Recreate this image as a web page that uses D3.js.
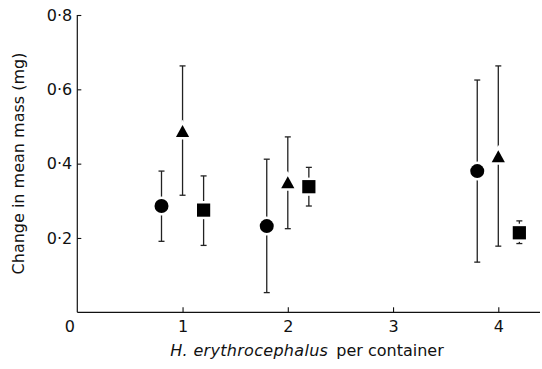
<!DOCTYPE html>
<html>
<head>
<meta charset="utf-8">
<script src="https://cdn.jsdelivr.net/npm/d3@7"></script>
<style>
  html, body { margin: 0; padding: 0; background: #fff; }
  svg { display: block; }
  text { font-family: "DejaVu Sans", sans-serif; fill: #111; }
</style>
</head>
<body>
<svg id="chart" width="542" height="369"></svg>
<script>
// Mean change in mass (mg) with error bars, by number of H. erythrocephalus per container
const circleX = [0.8, 1.8, 3.8];
const circleMean = [0.286, 0.232, 0.380];
const circleLow = [0.191, 0.053, 0.135];
const circleHigh = [0.380, 0.412, 0.625];

const triangleX = [1.0, 2.0, 4.0];
const triangleMean = [0.488, 0.350, 0.420];
const triangleLow = [0.315, 0.225, 0.178];
const triangleHigh = [0.663, 0.472, 0.663];

const squareX = [1.2, 2.2, 4.2];
const squareMean = [0.275, 0.338, 0.214];
const squareLow = [0.180, 0.286, 0.185];
const squareHigh = [0.367, 0.390, 0.246];

const xTicks = [0, 1, 2, 3, 4];
const yTicks = [0.2, 0.4, 0.6, 0.8];
const yTickLabels = ["0·2", "0·4", "0·6", "0·8"];

const svg = d3.select("#chart");
const plotLeft = 77.3, plotRight = 540, plotTop = 15, plotBottom = 312.3;
const fontSize = 16;

const x = d3.scaleLinear().domain([0, 4]).range([plotLeft, 498.3]);
const y = d3.scaleLinear().domain([0, 0.8]).range([plotBottom, plotTop]);

const ink = "#111";

// axes
const xAxis = d3.axisBottom(x)
  .tickValues(xTicks)
  .tickSizeInner(-5)
  .tickSizeOuter(0)
  .tickPadding(8.5)
  .tickFormat(d3.format("d"));
const gx = svg.append("g").attr("transform", `translate(0,${plotBottom})`).call(xAxis);
gx.select(".domain").remove();
gx.append("line").attr("x1", plotLeft).attr("x2", plotRight).attr("y1", 0).attr("y2", 0)
  .attr("stroke", ink).attr("stroke-width", 1.2);
gx.selectAll(".tick line").attr("stroke", ink).attr("stroke-width", 1.1);
gx.selectAll(".tick text").attr("font-size", fontSize).attr("fill", ink)
  .attr("font-family", "DejaVu Sans")
  .attr("dx", d => d === 0 ? -8 : 0);
gx.selectAll(".tick").filter(d => d === 0).select("line").remove();

const yAxis = d3.axisLeft(y)
  .tickValues(yTicks)
  .tickSizeInner(-4)
  .tickSizeOuter(0)
  .tickPadding(5)
  .tickFormat((d, i) => yTickLabels[i]);
const gy = svg.append("g").attr("transform", `translate(${plotLeft},0)`).call(yAxis);
gy.select(".domain").remove();
gy.append("line").attr("x1", 0).attr("x2", 0).attr("y1", plotTop).attr("y2", plotBottom)
  .attr("stroke", ink).attr("stroke-width", 1.2);
gy.selectAll(".tick line").attr("stroke", ink).attr("stroke-width", 1.1);
gy.selectAll(".tick text").attr("font-size", fontSize).attr("fill", ink)
  .attr("font-family", "DejaVu Sans");

// axis titles
svg.append("text")
  .attr("transform", "translate(24,163.5) rotate(-90)")
  .attr("text-anchor", "middle")
  .attr("font-size", fontSize)
  .text("Change in mean mass (mg)");

const xt = svg.append("text")
  .attr("x", 307)
  .attr("y", 355.5)
  .attr("text-anchor", "middle")
  .attr("font-size", fontSize);
xt.append("tspan").attr("font-style", "italic").attr("letter-spacing", 0.3).text("H. erythrocephalus");
xt.append("tspan").text("\u2002per container");

// series
const series = [
  { shape: "circle", xs: circleX, mean: circleMean, lo: circleLow, hi: circleHigh },
  { shape: "triangle", xs: triangleX, mean: triangleMean, lo: triangleLow, hi: triangleHigh },
  { shape: "square", xs: squareX, mean: squareMean, lo: squareLow, hi: squareHigh }
];

const capW = 3;
const marks = svg.append("g");

series.forEach(s => {
  const pts = s.xs.map((xv, i) => ({ x: xv, m: s.mean[i], lo: s.lo[i], hi: s.hi[i] }));
  const g = marks.append("g");
  // error bars
  pts.forEach(p => {
    const cx = x(p.x);
    g.append("line").attr("x1", cx).attr("x2", cx).attr("y1", y(p.lo)).attr("y2", y(p.hi))
      .attr("stroke", "#222").attr("stroke-width", 1.3);
    [p.lo, p.hi].forEach(v => {
      g.append("line").attr("x1", cx - capW).attr("x2", cx + capW)
        .attr("y1", y(v)).attr("y2", y(v))
        .attr("stroke", "#222").attr("stroke-width", 1.3);
    });
  });
  // markers with white halo to leave a gap in the bars
  pts.forEach(p => {
    const cx = x(p.x), cy = y(p.m);
    let el;
    if (s.shape === "circle") {
      el = g.append("circle").attr("cx", cx).attr("cy", cy).attr("r", 7);
    } else if (s.shape === "square") {
      el = g.append("rect").attr("x", cx - 6.6).attr("y", cy - 6.6).attr("width", 13.2).attr("height", 13.2);
    } else {
      const hw = 6.6, hh = 6;
      el = g.append("path").attr("d", `M${cx},${cy - hh}L${cx + hw},${cy + hh}L${cx - hw},${cy + hh}Z`);
    }
    el.attr("fill", "#000").attr("stroke", "#fff").attr("stroke-width", 5)
      .attr("paint-order", "stroke");
  });
});
</script>
</body>
</html>
